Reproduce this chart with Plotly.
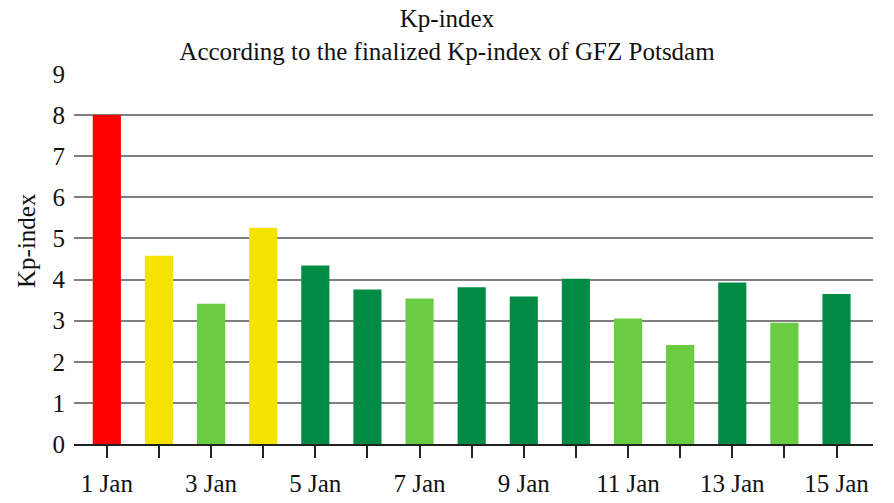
import plotly.graph_objects as go

days = ["1 Jan", "2 Jan", "3 Jan", "4 Jan", "5 Jan", "6 Jan", "7 Jan", "8 Jan",
        "9 Jan", "10 Jan", "11 Jan", "12 Jan", "13 Jan", "14 Jan", "15 Jan"]
kp = [8.0, 4.58, 3.41, 5.26, 4.34, 3.76, 3.54, 3.81, 3.59, 4.02, 3.05, 2.41, 3.93, 2.95, 3.65]
colors = ["#ff0000", "#f4e300", "#6acc42", "#f4e300", "#008b45", "#008b45", "#6acc42", "#008b45",
          "#008b45", "#008b45", "#6acc42", "#6acc42", "#008b45", "#6acc42", "#008b45"]
tick_text = [d if i % 2 == 0 else "" for i, d in enumerate(days)]

FONT = "Liberation Serif, Times New Roman, serif"
FS = 25

fig = go.Figure(go.Bar(x=days, y=kp, marker=dict(color=colors, line=dict(width=0)), width=0.54))

fig.update_layout(
    width=894, height=503,
    margin=dict(l=74, r=21, t=74, b=59),
    paper_bgcolor="white", plot_bgcolor="white",
    font=dict(family=FONT, size=FS, color="#111"),
    showlegend=False,
    title=dict(text="Kp-index<br>According to the finalized Kp-index of GFZ Potsdam",
               x=0.5, xanchor="center", y=1 - 27 / 503, yanchor="top",
               font=dict(family=FONT, size=FS, color="#111")),
    annotations=[dict(text="Kp-index", textangle=-90, xref="paper", yref="paper",
                      x=-48 / 799, y=(444 - 241) / 370, xanchor="center", yanchor="middle",
                      showarrow=False, font=dict(family=FONT, size=FS, color="#111"))],
)
fig.update_xaxes(
    type="category", range=[-0.63, 14.7], automargin=False,
    tickmode="array", tickvals=days, ticktext=tick_text,
    ticks="outside", ticklen=12, tickwidth=2, tickcolor="#222",
    showline=True, linecolor="#222", linewidth=2, ticklabelstandoff=4,
    showgrid=False, tickfont=dict(family=FONT, size=FS, color="#111"),
)
fig.update_yaxes(
    range=[0, 9], dtick=1, showgrid=True, gridcolor="#7f7f7f", gridwidth=1.5,
    zeroline=False, showline=False, ticks="", ticklabelstandoff=8, automargin=False,
    tickfont=dict(family=FONT, size=FS, color="#111"),
)

fig.write_html("out.html")
